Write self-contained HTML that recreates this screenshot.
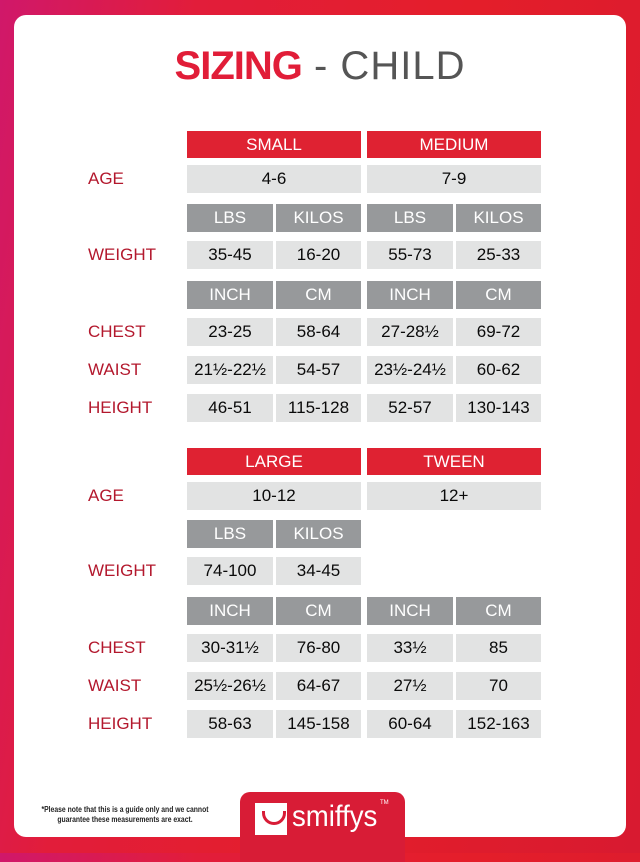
<!DOCTYPE html><html><head><style>
body{margin:0;width:640px;height:853px;overflow:hidden;font-family:"Liberation Sans",sans-serif;background:linear-gradient(100deg,#d0186a 0%,#e21d3a 25%,#e41e2a 60%,#d81a30 100%);position:relative}
.card{position:absolute;left:14px;top:15px;width:612px;height:822px;background:#fff;border-radius:12px}
.t{position:absolute;top:44px;left:0;width:640px;text-align:center;font-size:40px;color:#555;letter-spacing:1px}
.t b{color:#e11d38;font-weight:900;letter-spacing:-1px}
.t span{font-weight:normal;-webkit-text-stroke:0}
.c{position:absolute;display:flex;align-items:center;justify-content:center;font-size:17px;color:#111}
.r{background:#df2232;color:#fff}
.g{background:#97999b;color:#fff}
.l{background:#e2e3e3;color:#0a0a0a}
.lb{position:absolute;left:88px;font-size:17px;color:#b3182d}
.tab{position:absolute;left:240px;top:792px;width:165px;height:70px;background:#d81c36;border-radius:10px 10px 0 0}
.note{position:absolute;left:15px;top:805px;width:220px;text-align:center;font-size:8px;font-weight:bold;color:#222;line-height:10px;transform:scaleX(0.85)}
</style></head><body>
<div class="card"></div>
<div class="t"><b>SIZING</b> <span>- CHILD</span></div>
<div class="tab"></div>
<div style="position:absolute;left:255px;top:803px;width:32px;height:32px;background:#fff"><div style="position:absolute;left:7px;top:8px;width:18px;height:11px;border:3px solid #d81c36;border-top:none;border-radius:0 0 12px 12px"></div></div>
<div style="position:absolute;left:292px;top:800px;font-size:30px;color:#fff;transform:scaleX(0.92);transform-origin:left">smiffys</div>
<div style="position:absolute;left:380px;top:800px;font-size:6px;color:#fff">TM</div>
<div class="note">*Please note that this is a guide only and we cannot<br>guarantee these measurements are exact.</div>
<div id="x"></div>
<script>
var h='';function c(x,w,y,hh,cls,t){h+='<div class="c '+cls+'" style="left:'+x+'px;width:'+w+'px;top:'+y+'px;height:'+hh+'px">'+t+'</div>';}
function lb(y,t){h+='<div class="lb" style="top:'+(y+4)+'px">'+t+'</div>';}
var X=[187,276,367,456],W=[86,85,86,85];
function row(y,v,cls){for(var i=0;i<4;i++)if(v[i]!==null)c(X[i],W[i],y,28,cls,v[i]);}
function blk(o,n1,n2,a1,a2,wt,ch,wa,he,hasW2){
c(187,174,o,27,'r',n1);c(367,174,o,27,'r',n2);
lb(o+34,'AGE');c(187,174,o+34,28,'l',a1);c(367,174,o+34,28,'l',a2);
row(o+73-(o>400?1:0),hasW2?['LBS','KILOS','LBS','KILOS']:['LBS','KILOS',null,null],'g');
var d=o>400?-1:0;
lb(o+110+d,'WEIGHT');row(o+110+d,wt,'l');
row(o+150+d,['INCH','CM','INCH','CM'],'g');
lb(o+187+d,'CHEST');row(o+187+d,ch,'l');
lb(o+225+d,'WAIST');row(o+225+d,wa,'l');
lb(o+263+d,'HEIGHT');row(o+263+d,he,'l');}
blk(131,'SMALL','MEDIUM','4-6','7-9',['35-45','16-20','55-73','25-33'],['23-25','58-64','27-28½','69-72'],['21½-22½','54-57','23½-24½','60-62'],['46-51','115-128','52-57','130-143'],true);
blk(448,'LARGE','TWEEN','10-12','12+',['74-100','34-45',null,null],['30-31½','76-80','33½','85'],['25½-26½','64-67','27½','70'],['58-63','145-158','60-64','152-163'],false);
document.getElementById('x').innerHTML=h;
</script>
</body></html>
